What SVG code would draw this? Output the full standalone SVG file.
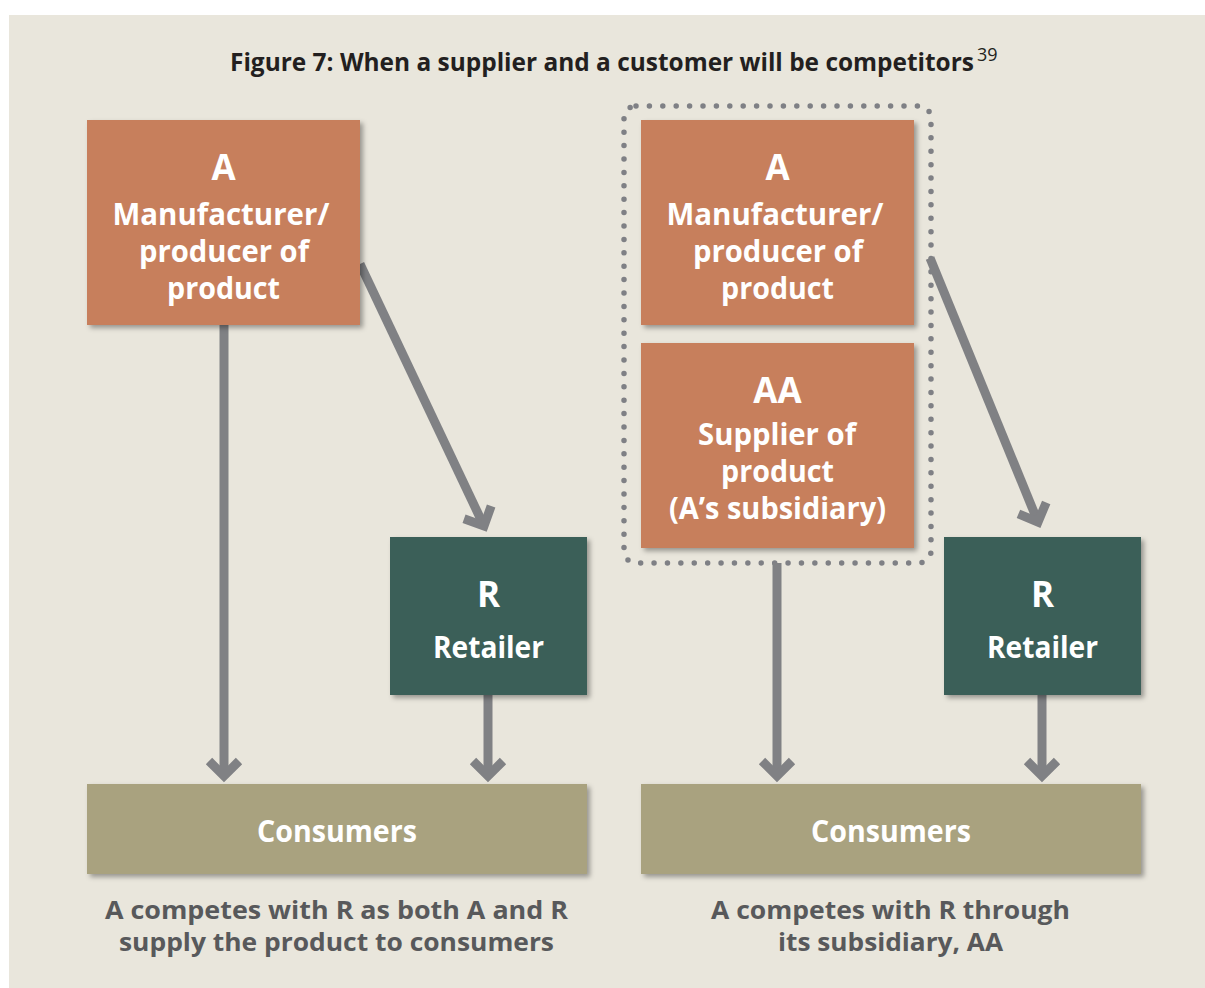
<svg xmlns="http://www.w3.org/2000/svg" width="1205" height="988" viewBox="0 0 1205 988">
  <style>
    .bx-o { fill: #c77f5c; }
    .bx-t { fill: #3a5e58; }
    .bx-c { fill: #a9a27f; }
    .big { font-family: "Open Sans", "Noto Sans", sans-serif; font-weight: 700; font-size: 35px; fill: #ffffff; text-anchor: middle; }
    .lbl { font-family: "Open Sans", "Noto Sans", sans-serif; font-weight: 700; font-size: 29.5px; fill: #ffffff; text-anchor: middle; }
    .cap { font-family: "Open Sans", "Noto Sans", sans-serif; font-weight: 700; font-size: 25px; fill: #58595b; text-anchor: middle; }
    .title { font-family: "Open Sans", "Noto Sans", sans-serif; font-weight: 700; font-size: 24.5px; fill: #231f20; }
    .sup { font-family: "Open Sans", "Noto Sans", sans-serif; font-weight: 400; font-size: 18px; fill: #231f20; }
    .conn { stroke: #808184; stroke-width: 9; fill: none; marker-end: url(#chev); }
  </style>
  <defs>
    <filter id="sh" x="-10%" y="-10%" width="125%" height="125%">
      <feDropShadow dx="3" dy="3" stdDeviation="2.5" flood-color="#000000" flood-opacity="0.35"/>
    </filter>
    <marker id="chev" markerUnits="userSpaceOnUse" markerWidth="44" markerHeight="44" viewBox="-22 -22 44 44" refX="0" refY="0" orient="auto">
      <path d="M -15 -15 L 0 0 L -15 15" fill="none" stroke="#808184" stroke-width="9" stroke-linejoin="miter"/>
    </marker>
  </defs>

  <rect x="9" y="15" width="1196" height="973" fill="#e9e6dc"/>

  <g id="title">
    <text class="title" x="230" y="71" textLength="744" lengthAdjust="spacingAndGlyphs">Figure 7: When a supplier and a customer will be competitors</text>
    <text class="sup" x="977" y="61">39</text>
  </g>

  <g id="group-A-AA">
    <rect x="624" y="106" width="307" height="457" rx="12" fill="none" stroke="#7f8085" stroke-width="5.5" stroke-dasharray="0 13.4" stroke-linecap="round"/>
  </g>

  <g id="connectors">
    <line class="conn" x1="224" y1="325" x2="224" y2="776"/>
    <line class="conn" x1="360" y1="264" x2="484" y2="526"/>
    <line class="conn" x1="488" y1="695" x2="488" y2="776"/>
    <line class="conn" x1="777" y1="563" x2="777" y2="776"/>
    <line class="conn" x1="930" y1="258" x2="1038" y2="522"/>
    <line class="conn" x1="1042" y1="695" x2="1042" y2="776"/>
  </g>

  <g id="left-A">
    <rect class="bx-o" x="87" y="120" width="273" height="205" filter="url(#sh)"/>
    <text class="big" x="223.5" y="180">A</text>
    <text class="lbl" x="221" y="225" textLength="217" lengthAdjust="spacingAndGlyphs">Manufacturer/</text>
    <text class="lbl" x="224" y="262" textLength="170" lengthAdjust="spacingAndGlyphs">producer of</text>
    <text class="lbl" x="223.5" y="299" textLength="113" lengthAdjust="spacingAndGlyphs">product</text>
  </g>

  <g id="left-R">
    <rect class="bx-t" x="390" y="537" width="197" height="158" filter="url(#sh)"/>
    <text class="big" x="488.5" y="607">R</text>
    <text class="lbl" x="488.5" y="658" textLength="111" lengthAdjust="spacingAndGlyphs">Retailer</text>
  </g>

  <g id="left-consumers">
    <rect class="bx-c" x="87" y="784" width="500" height="90" filter="url(#sh)"/>
    <text class="lbl" x="337" y="842" textLength="160" lengthAdjust="spacingAndGlyphs">Consumers</text>
  </g>

  <g id="right-A">
    <rect class="bx-o" x="641" y="120" width="273" height="205" filter="url(#sh)"/>
    <text class="big" x="777.5" y="180">A</text>
    <text class="lbl" x="775" y="225" textLength="217" lengthAdjust="spacingAndGlyphs">Manufacturer/</text>
    <text class="lbl" x="778" y="262" textLength="170" lengthAdjust="spacingAndGlyphs">producer of</text>
    <text class="lbl" x="777.5" y="299" textLength="113" lengthAdjust="spacingAndGlyphs">product</text>
  </g>

  <g id="right-AA">
    <rect class="bx-o" x="641" y="343" width="273" height="205" filter="url(#sh)"/>
    <text class="big" x="777.5" y="403">AA</text>
    <text class="lbl" x="777" y="445" textLength="158" lengthAdjust="spacingAndGlyphs">Supplier of</text>
    <text class="lbl" x="777.5" y="482" textLength="113" lengthAdjust="spacingAndGlyphs">product</text>
    <text class="lbl" x="777.5" y="519" textLength="217" lengthAdjust="spacingAndGlyphs">(A’s subsidiary)</text>
  </g>

  <g id="right-R">
    <rect class="bx-t" x="944" y="537" width="197" height="158" filter="url(#sh)"/>
    <text class="big" x="1042.5" y="607">R</text>
    <text class="lbl" x="1042.5" y="658" textLength="111" lengthAdjust="spacingAndGlyphs">Retailer</text>
  </g>

  <g id="right-consumers">
    <rect class="bx-c" x="641" y="784" width="500" height="90" filter="url(#sh)"/>
    <text class="lbl" x="891" y="842" textLength="160" lengthAdjust="spacingAndGlyphs">Consumers</text>
  </g>

  <g id="left-caption">
    <text class="cap" x="336.5" y="919" textLength="463" lengthAdjust="spacingAndGlyphs">A competes with R as both A and R</text>
    <text class="cap" x="336.5" y="951" textLength="435" lengthAdjust="spacingAndGlyphs">supply the product to consumers</text>
  </g>

  <g id="right-caption">
    <text class="cap" x="890.5" y="919" textLength="359" lengthAdjust="spacingAndGlyphs">A competes with R through</text>
    <text class="cap" x="890.5" y="951" textLength="225" lengthAdjust="spacingAndGlyphs">its subsidiary, AA</text>
  </g>
</svg>
